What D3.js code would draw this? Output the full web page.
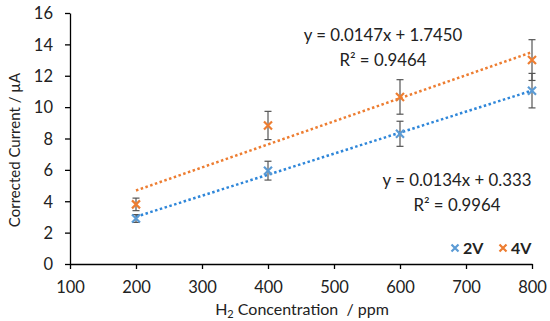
<!DOCTYPE html>
<html><head><meta charset="utf-8">
<script src="https://cdn.jsdelivr.net/npm/d3@7"></script>
<style>body{margin:0;background:#fff}svg{display:block}text{font-family:Lato,"Open Sans",sans-serif;white-space:pre}</style>
</head><body><svg id="c" width="550" height="321"></svg>
<script>
const conc = [200, 400, 600, 800];
const v2 = [2.9, 5.95, 8.3, 11.05];
const e2 = [0.25, 0.6, 0.8, 1.1];
const v4 = [3.8, 8.83, 10.65, 13.0];
const e4 = [0.4, 0.9, 1.1, 1.3];
const fit2 = {m: 0.0134, b: 0.333, eq: "y = 0.0134x + 0.333", r2: "R² = 0.9964"};
const fit4 = {m: 0.0147, b: 1.745, eq: "y = 0.0147x + 1.7450", r2: "R² = 0.9464"};
const xTicks = [100,200,300,400,500,600,700,800];
const yTicks = [0,2,4,6,8,10,12,14,16];

const svg = d3.select("#c");
const x = d3.scaleLinear().domain([100,800]).range([70,532]);
const y = d3.scaleLinear().domain([0,16]).range([264,13]);
const blue = "#5B9BD5", blueLine = "#2E86D9", orange = "#ED7D31";

const gx = svg.append("g").attr("transform","translate(0,264)")
  .call(d3.axisBottom(x).tickValues(xTicks).tickSize(5).tickSizeOuter(0).tickPadding(12));
const gy = svg.append("g").attr("transform","translate(70,0)")
  .call(d3.axisLeft(y).tickValues(yTicks).tickSize(5).tickSizeOuter(0).tickPadding(12));
[gx,gy].forEach(g=>{
  g.selectAll("path,line").attr("stroke","#000").attr("stroke-width",1.3);
  g.selectAll("text").attr("font-size",16.5).attr("fill","#222").style("font-family","Lato,'Open Sans',sans-serif");
});
gy.selectAll("text").attr("dy","0.35em");

svg.append("text").attr("transform","translate(20,150) rotate(-90)").attr("text-anchor","middle")
  .attr("font-size",15).attr("fill","#222").text("Corrected Current / µA");
const xt = svg.append("text").attr("x",302).attr("y",315).attr("text-anchor","middle").attr("font-size",16).attr("fill","#222");
xt.append("tspan").text("H");
xt.append("tspan").attr("font-size",11).attr("dy",3).text("2");
xt.append("tspan").attr("dy",-3).text(" Concentration  / ppm");

function trend(f, col){
  svg.append("line").attr("x1",x(200)).attr("x2",x(800))
    .attr("y1",y(f.m*200+f.b)).attr("y2",y(f.m*800+f.b))
    .attr("stroke",col).attr("stroke-width",2.5).attr("stroke-dasharray","2.5,2.5");
}
trend(fit4, orange);
trend(fit2, blueLine);

function series(vals, errs, col){
  const g = svg.append("g");
  conc.forEach((c,i)=>{
    const cx = x(c), t = y(vals[i]+errs[i]), b = y(vals[i]-errs[i]);
    g.append("line").attr("x1",cx).attr("x2",cx).attr("y1",t).attr("y2",b).attr("stroke","#555").attr("stroke-width",1.2);
    [t,b].forEach(yy=>g.append("line").attr("x1",cx-3.5).attr("x2",cx+3.5).attr("y1",yy).attr("y2",yy).attr("stroke","#555").attr("stroke-width",1.2));
  });
  conc.forEach((c,i)=>{
    const cx = x(c), cy = y(vals[i]), s = 4;
    g.append("path").attr("d",`M${cx-s},${cy-s}L${cx+s},${cy+s}M${cx-s},${cy+s}L${cx+s},${cy-s}`)
      .attr("stroke",col).attr("stroke-width",2.2).attr("fill","none");
  });
}
series(v4, e4, orange);
series(v2, e2, blue);

function label(f, cx, cy){
  svg.append("text").attr("x",cx).attr("y",cy).attr("text-anchor","middle").attr("font-size",16.8).attr("fill","#222").text(f.eq);
  svg.append("text").attr("x",cx).attr("y",cy+25).attr("text-anchor","middle").attr("font-size",16.8).attr("fill","#222").text(f.r2);
}
label(fit4, 383, 41);
label(fit2, 457, 186);

// legend
const leg = [{n:"2V",c:blue,x:455},{n:"4V",c:orange,x:503}];
leg.forEach(l=>{
  const s=3.5, cy=248;
  svg.append("path").attr("d",`M${l.x-s},${cy-s}L${l.x+s},${cy+s}M${l.x-s},${cy+s}L${l.x+s},${cy-s}`)
    .attr("stroke",l.c).attr("stroke-width",2.2);
  svg.append("text").attr("x",l.x+8).attr("y",cy+6).attr("font-size",16).attr("font-weight","bold").attr("fill","#222").text(l.n);
});
</script></body></html>
